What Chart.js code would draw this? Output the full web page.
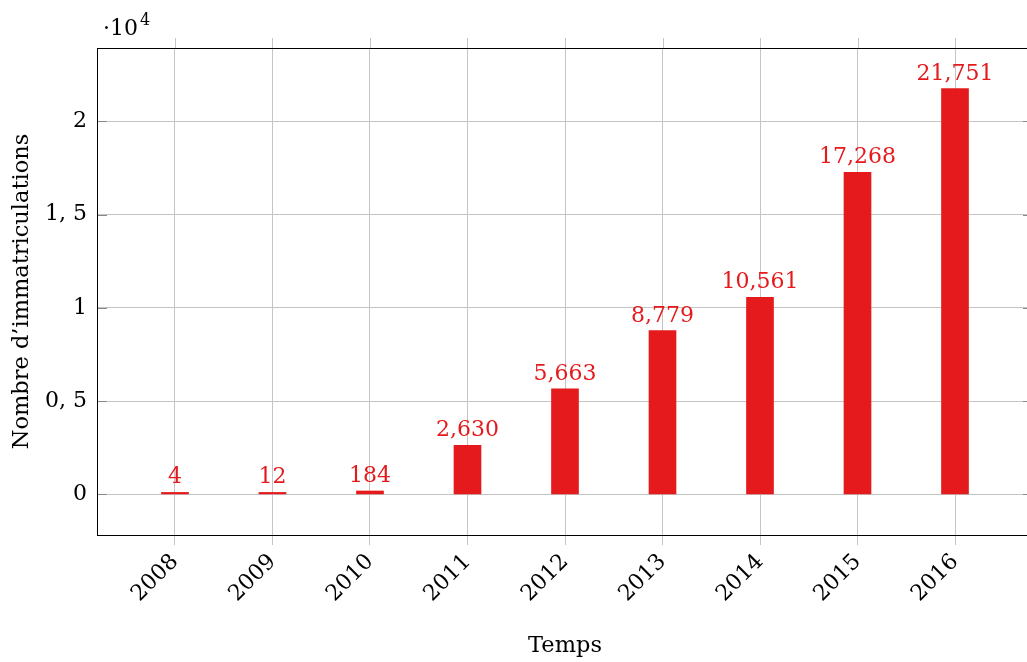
<!DOCTYPE html>
<html>
<head>
<meta charset="utf-8">
<script src="https://cdn.jsdelivr.net/npm/chart.js@4/dist/chart.umd.min.js"></script>
<style>
  html, body { margin: 0; padding: 0; background: #fff; overflow: hidden; }
  #wrap { width: 1027px; height: 662px; overflow: hidden; position: relative; }
  #immatChart { position: absolute; left: 0; top: 0; }
</style>
</head>
<body>
<div id="wrap"><canvas id="immatChart" width="1040" height="662"></canvas></div>
<script>
const years = [2008, 2009, 2010, 2011, 2012, 2013, 2014, 2015, 2016];
const registrations = [4, 12, 184, 2630, 5663, 8779, 10561, 17268, 21751];
const yTickValues = [0, 5000, 10000, 15000, 20000];
const yTickLabels = ["0", "0, 5", "1", "1, 5", "2"];

const FONT = "DejaVu Serif";
const RED = "#e41a1c";
const GRID = "#c4c4c4";

// box, outer/inner tick marks, titles, multiplier and value labels
const decorations = {
  id: "decorations",
  afterDraw(chart) {
    const { ctx, chartArea: a, scales: { x, y } } = chart;
    ctx.save();

    // top tick marks of x grid
    ctx.strokeStyle = GRID;
    ctx.lineWidth = 1;
    years.forEach(yr => {
      const px = Math.round(x.getPixelForValue(yr)) + 0.5;
      ctx.beginPath();
      ctx.moveTo(px, a.top - 10);
      ctx.lineTo(px, a.top);
      ctx.stroke();
    });

    // inner y ticks, both sides
    ctx.strokeStyle = "#888";
    yTickValues.forEach(v => {
      const py = Math.round(y.getPixelForValue(v)) + 0.5;
      ctx.beginPath();
      ctx.moveTo(a.left, py);
      ctx.lineTo(a.left + 10, py);
      ctx.moveTo(a.right - 10, py);
      ctx.lineTo(a.right, py);
      ctx.stroke();
    });

    // frame
    ctx.strokeStyle = "#000";
    ctx.strokeRect(Math.round(a.left) + 0.5, Math.round(a.top) + 0.5,
      Math.round(a.right - a.left), Math.round(a.bottom - a.top));

    // value labels above bars
    ctx.fillStyle = RED;
    ctx.font = "22px '" + FONT + "'";
    ctx.textAlign = "center";
    ctx.textBaseline = "alphabetic";
    chart.getDatasetMeta(0).data.forEach((bar, i) => {
      ctx.fillText(registrations[i].toLocaleString("en-US"), bar.x, bar.y - 9);
    });

    // multiplier ·10^4
    ctx.fillStyle = "#000";
    ctx.textAlign = "left";
    ctx.fillText("·10", 103, 35);
    ctx.font = "16px '" + FONT + "'";
    ctx.fillText("4", 140, 25);

    // axis titles
    ctx.font = "22.5px '" + FONT + "'";
    ctx.textAlign = "center";
    ctx.textBaseline = "middle";
    ctx.fillText("Temps", (a.left + a.right) / 2, 646);
    ctx.translate(22, (a.top + a.bottom) / 2);
    ctx.rotate(-Math.PI / 2);
    ctx.fillText("Nombre d\u2019immatriculations", 0, 0);
    ctx.restore();
  }
};

const ctx = document.getElementById("immatChart").getContext("2d");
const immatChart = new Chart(ctx, {
  type: "bar",
  data: {
    datasets: [{
      data: years.map((yr, i) => ({ x: yr, y: registrations[i] })),
      backgroundColor: RED,
      borderColor: RED,
      borderWidth: 0,
      barThickness: 27,
      minBarLength: 2
    }]
  },
  options: {
    responsive: false,
    animation: false,
    layout: { padding: { top: 48, right: 7, left: 0, bottom: 0 } },
    plugins: { legend: { display: false }, tooltip: { enabled: false } },
    scales: {
      x: {
        type: "linear",
        min: 2007.2,
        max: 2016.8,
        offset: false,
        afterBuildTicks: s => { s.ticks = years.map(v => ({ value: v })); },
        afterFit: s => { s.height = 127; },
        grid: { color: GRID, tickLength: 10, drawTicks: true, offset: false },
        border: { display: false },
        ticks: {
          callback: v => String(v),
          minRotation: 45,
          maxRotation: 45,
          padding: 4,
          color: "#000",
          font: { family: FONT, size: 22 }
        }
      },
      y: {
        min: -2175,
        max: 23926,
        afterBuildTicks: s => { s.ticks = yTickValues.map(v => ({ value: v })); },
        afterFit: s => { s.width = 97; },
        grid: { color: GRID, drawTicks: false },
        border: { display: false },
        ticks: {
          callback: (v, i) => yTickLabels[i],
          padding: 10,
          color: "#000",
          font: { family: FONT, size: 22 }
        }
      }
    }
  },
  plugins: [decorations]
});
</script>
</body>
</html>
